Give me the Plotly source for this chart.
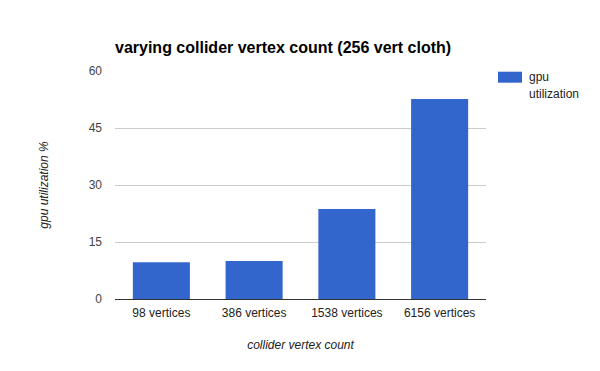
import plotly.graph_objects as go

categories = ["98 vertices", "386 vertices", "1538 vertices", "6156 vertices"]
gpu_utilization = [9.7, 10.0, 23.7, 52.6]
y_ticks = [0, 15, 30, 45, 60]
series_name = "gpu utilization"

FONT = "Liberation Sans, Arial, sans-serif"
BAR_COLOR = "#3366cc"

# page has an 8px body margin; compensate so the plot area lands at 115..486 x 71..299
fig = go.Figure()
fig.add_trace(go.Bar(
    x=categories, y=gpu_utilization, name=series_name,
    marker=dict(color=BAR_COLOR, line=dict(width=0)),
    showlegend=False,
))

# plot-area geometry in page pixels (used for legend placement in paper coords)
PX0, PX1, PY0, PY1 = 115, 486, 71, 299
def px(x):
    return (x - PX0) / (PX1 - PX0)
def py(y):
    return (PY1 - y) / (PY1 - PY0)

fig.add_shape(type="rect", xref="paper", yref="paper",
              x0=px(498), x1=px(522), y0=py(82.7), y1=py(71.7),
              fillcolor=BAR_COLOR, line=dict(width=0))
name_lines = series_name.split(" ")
for i, line in enumerate(name_lines):
    fig.add_annotation(text=line, xref="paper", yref="paper",
                       x=px(527), y=py(77 + 16.5 * i), xanchor="left", yanchor="middle",
                       showarrow=False, font=dict(family=FONT, size=12, color="#222"))

fig.update_layout(
    width=592, height=363,
    margin=dict(l=107, r=114, t=63, b=72),
    paper_bgcolor="white", plot_bgcolor="white",
    font=dict(family=FONT, size=12, color="#222"),
    title=dict(text="<b>varying collider vertex count (256 vert cloth)</b>",
               x=107/592, xanchor="left", y=1-39/363, yanchor="middle",
               font=dict(family=FONT, size=16, color="#000")),
    bargap=0.385,
    showlegend=False,
    xaxis=dict(
        showgrid=False, showline=True, linecolor="#333", linewidth=1,
        ticks="", ticklabelstandoff=3,
        tickfont=dict(family=FONT, size=12, color="#222"),
        title=dict(text="<i>collider vertex count</i>", standoff=21,
                   font=dict(family=FONT, size=12, color="#222")),
        automargin=False,
    ),
    yaxis=dict(
        range=[0, 60], tickvals=y_ticks, ticktext=[str(v) for v in y_ticks],
        showgrid=True, gridcolor="#cccccc", gridwidth=1,
        zeroline=False, showline=False, ticks="",
        ticklabelstandoff=12,
        tickfont=dict(family=FONT, size=12, color="#444"),
        title=dict(text="<i>gpu utilization %</i>", standoff=37,
                   font=dict(family=FONT, size=12, color="#222")),
        automargin=False,
    ),
)

fig.write_html("out.html")
